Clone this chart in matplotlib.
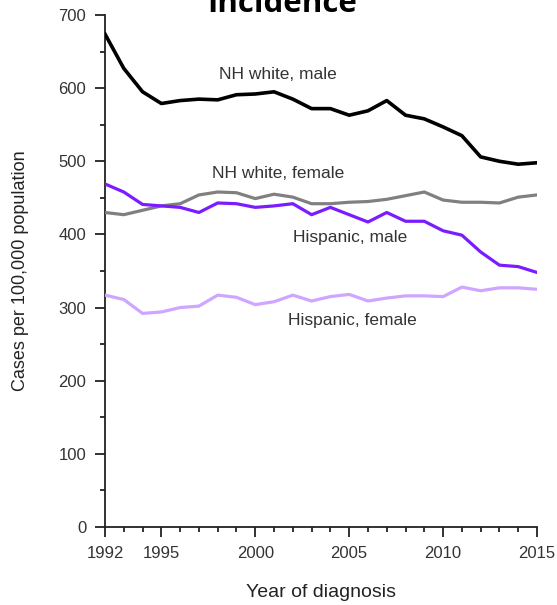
import matplotlib
matplotlib.use('Agg')
from matplotlib import pyplot as plt
from matplotlib.ticker import MultipleLocator

plt.rcParams['font.family'] = ['Liberation Sans', 'DejaVu Sans']

years = list(range(1992, 2016))

# rates per 100,000, by group
nh_white_male = [674, 627, 595, 579, 583, 585, 584, 591, 592, 595, 585, 572,
                 572, 563, 569, 583, 563, 558, 547, 535, 506, 500, 496, 498]
nh_white_female = [430, 427, 433, 439, 442, 454, 458, 457, 449, 455, 451, 442,
                   442, 444, 445, 448, 453, 458, 447, 444, 444, 443, 451, 454]
hispanic_male = [469, 458, 441, 439, 437, 430, 443, 442, 437, 439, 442, 427,
                 437, 427, 417, 430, 418, 418, 405, 399, 376, 358, 356, 348]
hispanic_female = [317, 311, 292, 294, 300, 302, 317, 314, 304, 308, 317, 309,
                   315, 318, 309, 313, 316, 316, 315, 328, 323, 327, 327, 325]

series = [
    ('NH white, male', nh_white_male, '#000000', 2.6, (2001.2, 618)),
    ('NH white, female', nh_white_female, '#808080', 2.3, (2001.2, 483)),
    ('Hispanic, male', hispanic_male, '#7a1cff', 2.3, (2005.05, 396)),
    ('Hispanic, female', hispanic_female, '#cfa6ff', 2.3, (2005.15, 283)),
]

fig = plt.figure(figsize=(5.57, 6.05), dpi=100)
ax = fig.add_axes([105 / 557, 78 / 605, 432 / 557, 512 / 605])

for name, vals, col, lw, (tx, ty) in series:
    ax.plot(years, vals, color=col, lw=lw, solid_joinstyle='round', zorder=3)
    ax.text(tx, ty, name, ha='center', va='center', fontsize=12.5, color='#333333')

ax.set_xlim(1992, 2015)
ax.set_ylim(0, 700)
ax.set_xticks([1992, 1995, 2000, 2005, 2010, 2015])
ax.xaxis.set_minor_locator(MultipleLocator(1))
ax.yaxis.set_major_locator(MultipleLocator(100))
ax.yaxis.set_minor_locator(MultipleLocator(50))

for s in ['top', 'right']:
    ax.spines[s].set_visible(False)
for s in ['left', 'bottom']:
    ax.spines[s].set_linewidth(1.3)
    ax.spines[s].set_color('#222222')

ax.tick_params(which='major', direction='out', length=7.5, width=1.3,
               labelsize=12, colors='#222222', labelcolor='#333333', pad=6)
ax.tick_params(which='minor', direction='out', length=3.5, width=1.3, colors='#222222')

ax.set_xlabel('Year of diagnosis', fontsize=14, color='#222222', labelpad=17)
ax.set_ylabel('Cases per 100,000 population', fontsize=13, color='#222222', labelpad=21)

fig.text(0.507, 1 - 12 / 605, 'Incidence', ha='center', va='baseline',
         fontsize=22.5, fontweight='bold', family=['Open Sans', 'DejaVu Sans'])

fig.savefig('out.png', dpi=100)
